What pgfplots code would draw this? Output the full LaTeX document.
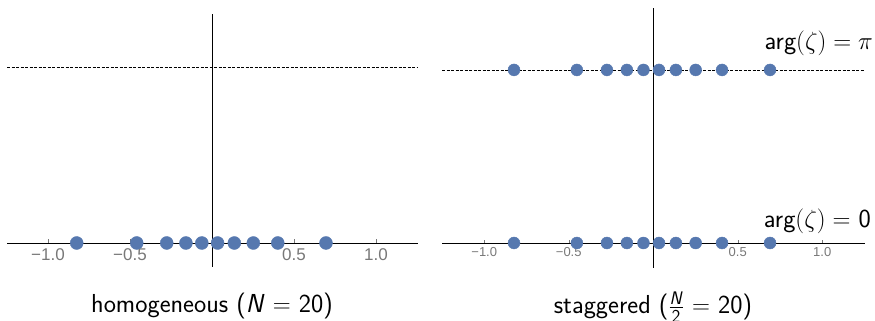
\documentclass[border=0pt]{standalone}
\usepackage{amsmath}
\usepackage{pgfplots}
\pgfplotsset{compat=1.18}
\usepackage{fontspec}
\newfontfamily\arial{Liberation Sans}
\definecolor{dotblue}{RGB}{86,120,175}
\definecolor{tickgray}{RGB}{120,120,120}
\begin{document}
\begin{tikzpicture}[x=1pt,y=1pt]
\useasboundingbox (0,0) rectangle (875,321);
% left panel
\begin{axis}[
  at={(7pt,54pt)}, anchor=south west,
  scale only axis, width=410pt, height=253pt,
  xmin=-1.25, xmax=1.25, ymin=-0.1364, ymax=1.3011,
  axis lines=middle, axis line style={-, black, line width=0.5pt},
  xtick={-1,-0.5,0.5,1},
  xticklabels={−1.0,−0.5,0.5,1.0},
  minor x tick num=4,
  ytick=\empty,
  tick align=inside,
  major tick length=4pt, minor tick length=2.5pt,
  xtick style={tickgray, line width=0.4pt},
  x tick label style={font=\fontsize{17}{19}\selectfont\arial, text=tickgray, yshift=-2pt},
  clip=false,
]
\addplot[black, line width=0.5pt, dash pattern=on 3pt off 1.5pt] coordinates {(-1.25,1) (1.25,1)};
\addplot[black, line width=0.5pt, dash pattern=on 3pt off 1.5pt] coordinates {(-1.25,0) (1.25,0)};
\addplot[only marks, mark=*, mark size=6.5pt, color=dotblue] coordinates {
(-0.825,0) (-0.459,0) (-0.276,0) (-0.159,0) (-0.062,0) (0.034,0) (0.136,0) (0.252,0) (0.401,0) (0.695,0)};
\end{axis}
% right panel
\begin{axis}[
  at={(442pt,53pt)}, anchor=south west,
  scale only axis, width=422.5pt, height=260pt,
  xmin=-1.25, xmax=1.25, ymin=-0.1445, ymax=1.358,
  axis lines=middle, axis line style={-, black, line width=0.5pt},
  xtick={-1,-0.5,0.5,1},
  xticklabels={−1.0,−0.5,0.5,1.0},
  minor x tick num=4,
  ytick=\empty,
  tick align=inside,
  major tick length=3pt, minor tick length=2pt,
  xtick style={tickgray, line width=0.4pt},
  x tick label style={font=\fontsize{13}{15}\selectfont\arial, text=tickgray, yshift=-1pt},
  clip=false,
]
\addplot[black, line width=0.5pt, dash pattern=on 3pt off 1.5pt] coordinates {(-1.25,1) (1.25,1)};
\addplot[black, line width=0.5pt, dash pattern=on 3pt off 1.5pt] coordinates {(-1.25,0) (1.25,0)};
\addplot[only marks, mark=*, mark size=6pt, color=dotblue] coordinates {
(-0.824,0) (-0.452,0) (-0.274,0) (-0.156,0) (-0.058,0) (0.034,0) (0.134,0) (0.251,0) (0.407,0) (0.691,0)};
\addplot[only marks, mark=*, mark size=6pt, color=dotblue] coordinates {
(-0.824,1) (-0.452,1) (-0.274,1) (-0.156,1) (-0.058,1) (0.034,1) (0.134,1) (0.251,1) (0.407,1) (0.691,1)};
\end{axis}
\node[anchor=base east, inner sep=0pt, font=\fontsize{26}{30}\selectfont\sffamily] at (873,271) {arg$(\zeta) = \pi$};
\node[anchor=base east, inner sep=0pt, font=\fontsize{26}{30}\selectfont\sffamily] at (871,93) {arg$(\zeta) =$ 0};
\node[anchor=base, inner sep=0pt, font=\fontsize{26}{30}\selectfont\sffamily] at (212,8) {homogeneous (\textit{N} $=$ 20)};
\node[anchor=base, inner sep=0pt, font=\fontsize{26}{30}\selectfont\sffamily] at (653,7) {staggered ($\frac{\textsf{\textit{N}}}{\textsf{2}}$ $=$ 20)};
\end{tikzpicture}
\end{document}
